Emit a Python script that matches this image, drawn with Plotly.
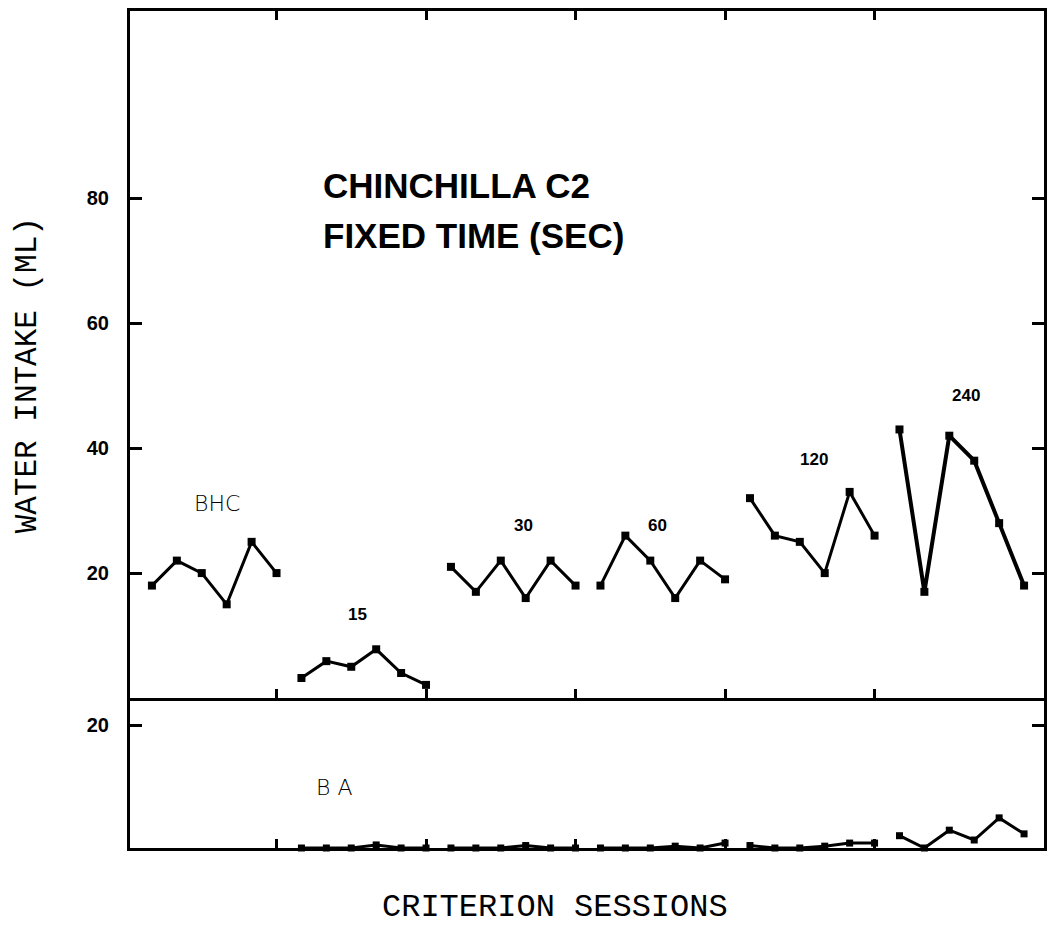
import plotly.graph_objects as go

# Water intake (ml) per criterion session, six sessions per condition
conditions = ["BHC", "15", "30", "60", "120", "240"]
water_bhc = [18, 22, 20, 15, 25, 20]
water_ft15 = [3.2, 5.9, 5.0, 7.8, 4.0, 2.1]
water_ft30 = [21, 17, 22, 16, 22, 18]
water_ft60 = [18, 26, 22, 16, 22, 19]
water_ft120 = [32, 26, 25, 20, 33, 26]
water_ft240 = [43, 17, 42, 38, 28, 18]

# BA panel (no BA data in the BHC condition)
ba_ft15 = [0, 0, 0, 0.5, 0, 0]
ba_ft30 = [0, 0, 0, 0.4, 0, 0]
ba_ft60 = [0, 0, 0, 0.3, 0, 0.8]
ba_ft120 = [0.4, 0, 0, 0.3, 0.8, 0.8]
ba_ft240 = [2.0, 0, 2.9, 1.3, 4.9, 2.3]

water_groups = [water_bhc, water_ft15, water_ft30, water_ft60, water_ft120, water_ft240]
ba_groups = [None, ba_ft15, ba_ft30, ba_ft60, ba_ft120, ba_ft240]
sessions_per_condition = 6

# label anchors (session, value) for the condition names
label_pos = {
    "BHC": (3.6, 31.2),
    "15": (9.25, 13.4),
    "30": (15.9, 27.7),
    "60": (21.3, 27.7),
    "120": (27.55, 38.2),
    "240": (33.65, 48.5),
}

fig = go.Figure()

for g, name in enumerate(conditions):
    sess = [g * sessions_per_condition + i + 1 for i in range(sessions_per_condition)]
    width = 4 if name == "240" else 3
    fig.add_trace(go.Scatter(
        x=sess, y=water_groups[g], mode="lines+markers",
        line=dict(color="black", width=width),
        marker=dict(symbol="square", size=8, color="black"),
        cliponaxis=False, showlegend=False, xaxis="x", yaxis="y",
    ))
    if ba_groups[g] is not None:
        fig.add_trace(go.Scatter(
            x=sess, y=ba_groups[g], mode="lines+markers",
            line=dict(color="black", width=3),
            marker=dict(symbol="square", size=7, color="black"),
            cliponaxis=False, showlegend=False, xaxis="x2", yaxis="y2",
        ))

annotations = []
for name in conditions:
    sx, sy = label_pos[name]
    if name == "BHC":
        font = dict(family="DejaVu Sans", size=22, color="black", weight=300)
    else:
        font = dict(family="Liberation Sans", size=17, color="black", weight="bold")
    annotations.append(dict(x=sx, y=sy, xref="x", yref="y", text=name,
                            showarrow=False, font=font))

annotations.append(dict(x=8.3, y=9.8, xref="x2", yref="y2", text="B A", showarrow=False,
                        font=dict(family="DejaVu Sans", size=22, color="black", weight=300)))

title_font = dict(family="Liberation Sans", size=35, color="black", weight="bold")
annotations.append(dict(x=322, y=926 - 185.5, xref="paper", yref="paper", text="CHINCHILLA C2",
                        showarrow=False, xanchor="left", yanchor="middle", font=title_font))
annotations.append(dict(x=322, y=926 - 235, xref="paper", yref="paper", text="FIXED TIME (SEC)",
                        showarrow=False, xanchor="left", yanchor="middle", font=title_font))

# axis titles
mono = dict(family="Liberation Mono", size=32, color="black")
annotations.append(dict(x=556, y=926 - 907, xref="paper", yref="paper", text="CRITERION SESSIONS",
                        showarrow=False, xanchor="center", yanchor="middle", font=mono))
annotations.append(dict(x=27, y=926 - 375, xref="paper", yref="paper", text="WATER INTAKE (ML)",
                        showarrow=False, xanchor="center", yanchor="middle", textangle=-90,
                        font=dict(family="Liberation Mono", size=31, color="black")))

# convert pixel-placed annotations to paper fractions
L, R, T, B = 130, 2, 11, 78
W, H = 1049, 926
for a in annotations:
    if a["xref"] == "paper":
        a["x"] = (a["x"] - L) / (W - L - R)
        a["y"] = (a["y"] - B) / (H - T - B)

split = 150 / (H - T - B)

axis_common = dict(showline=True, linecolor="black", linewidth=3, ticks="inside",
                   tickcolor="black", showgrid=False, zeroline=False)
tick_font = dict(family="Liberation Sans", size=20, color="black", weight="bold")

fig.update_layout(
    width=W, height=H,
    margin=dict(l=L, r=R, t=T, b=B),
    paper_bgcolor="white", plot_bgcolor="white",
    showlegend=False,
    annotations=annotations,
    xaxis=dict(**axis_common, range=[0.12, 36.8], domain=[0, 1], anchor="y",
               tickvals=[6, 12, 18, 24, 30], showticklabels=False,
               ticklen=9, tickwidth=3, mirror="ticks"),
    xaxis2=dict(**axis_common, range=[0.12, 36.8], domain=[0, 1], anchor="y2",
                matches="x", tickvals=[6, 12, 18, 24, 30], showticklabels=False,
                ticklen=9, tickwidth=3, mirror=False),
    yaxis=dict(**axis_common, range=[0, 110], domain=[split, 1], anchor="x",
               tickvals=[20, 40, 60, 80], ticktext=["20", "40", "60", "80"],
               ticklen=12, tickwidth=3, mirror="ticks", ticklabelstandoff=14,
               tickfont=tick_font),
    yaxis2=dict(**axis_common, range=[0, 24.4], domain=[0, split], anchor="x2",
                tickvals=[20], ticktext=["20"],
                ticklen=12, tickwidth=3, mirror="ticks", ticklabelstandoff=14,
                tickfont=tick_font),
)

fig.write_html("out.html")
